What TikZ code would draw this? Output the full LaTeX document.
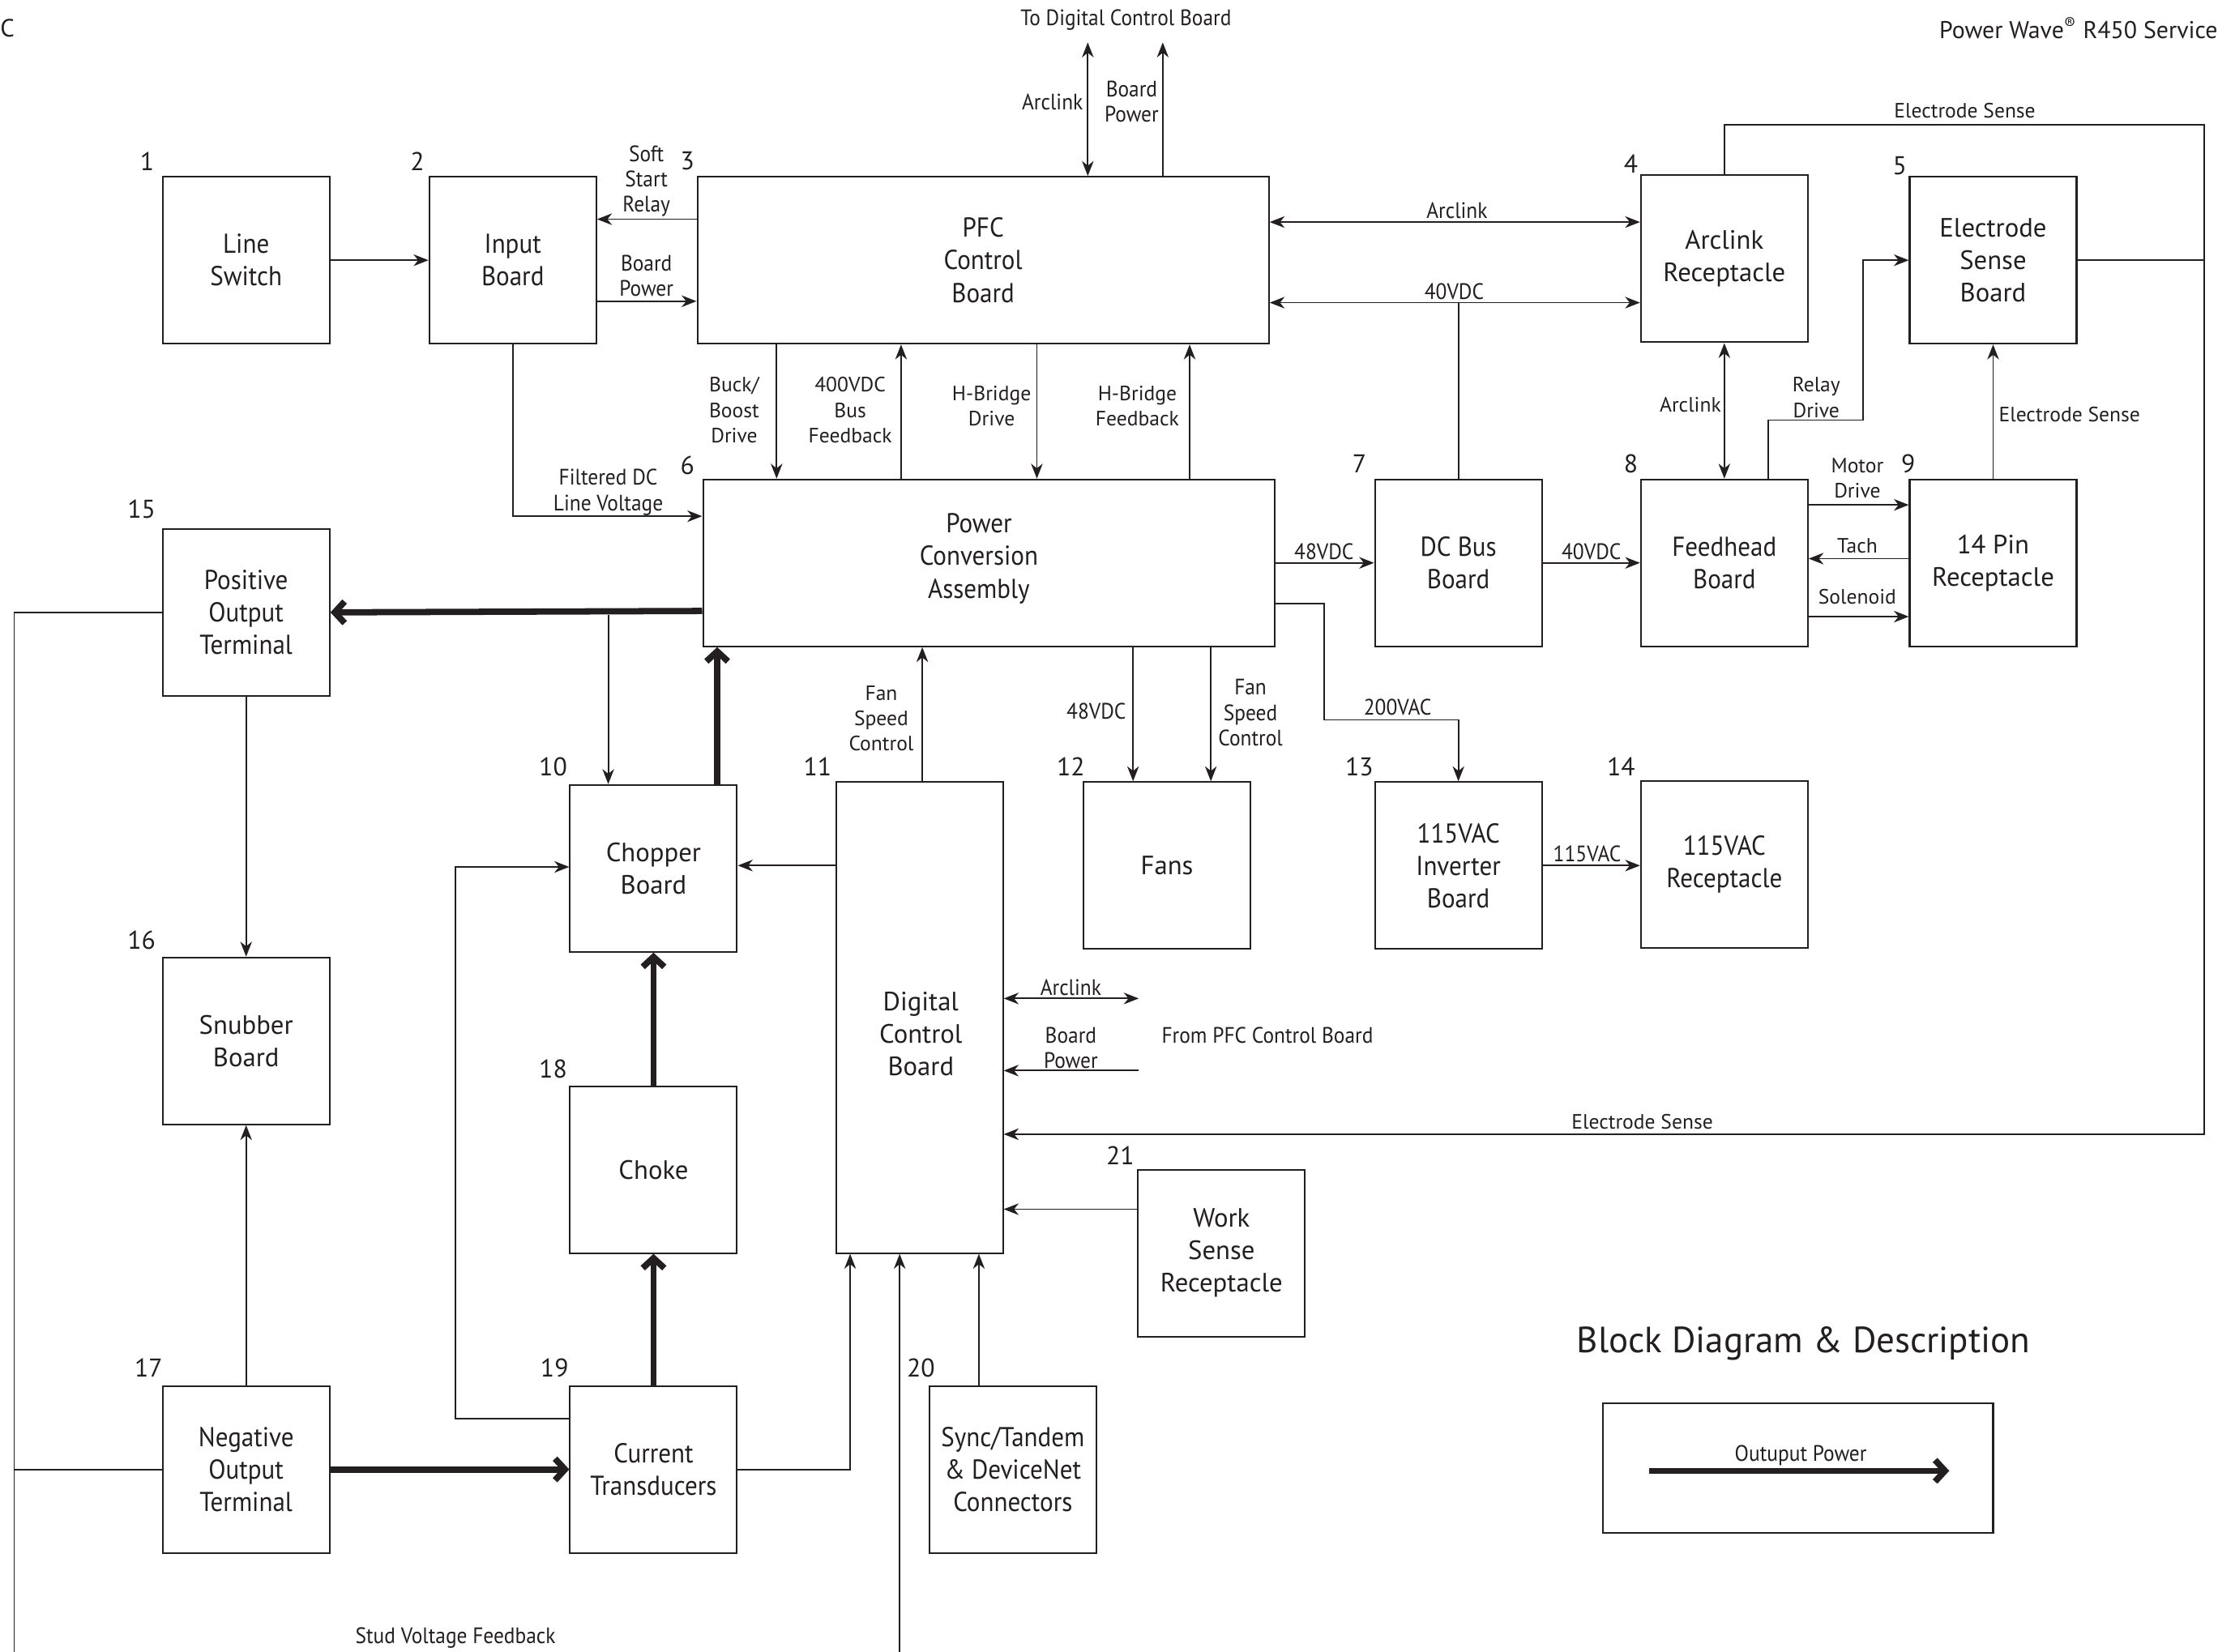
\documentclass[tikz,border=0pt]{standalone}
\usepackage{fontspec}
\setmainfont{PT Sans}
\newfontfamily\condf{PT Sans}[FakeStretch=0.92]
\usepackage{xcolor}
\usetikzlibrary{arrows.meta}
\definecolor{ink}{HTML}{231F20}
\tikzset{
  blk/.style={draw=ink,line width=1pt,minimum width=3.54cm,minimum height=3.54cm,align=center,inner sep=2pt,text=ink,font=\fontsize{16}{19.6}\selectfont},
  cblk/.style={blk,font=\condf\fontsize{16.5}{19.6}\selectfont},
  ar/.style={-{Stealth[length=9pt,width=7pt,inset=2.8pt]},line width=0.9pt,ink},
  dar/.style={{Stealth[length=9pt,width=7pt,inset=2.8pt]}-{Stealth[length=9pt,width=7pt,inset=2.8pt]},line width=0.9pt,ink},
  pw/.style={-{Straight Barb[length=6pt,width=13pt]},line width=3.8pt,ink},
  ln/.style={line width=0.9pt,ink},
  lbl/.style={font=\condf\fontsize{13.5}{15.3}\selectfont,align=center,inner sep=0pt,text=ink},
  lbn/.style={font=\fontsize{12.5}{15.3}\selectfont,align=center,inner sep=0pt,text=ink},
  num/.style={font=\fontsize{15.5}{18}\selectfont,inner sep=0pt,text=ink}
}

\begin{document}
\begin{tikzpicture}[x=0.03cm,y=-0.03cm]
\useasboundingbox (0,0) rectangle (1568,1168);

% header
\node[lbn,anchor=west,font=\fontsize{15}{18}\selectfont] (hdl) at (0,20) {C};
\node[lbn,anchor=east,font=\fontsize{14.6}{18}\selectfont] (hdr) at (1568,20) {Power Wave\textsuperscript{®} R450 Service};

% blocks
\node[cblk] (ls) at (174,184) {Line\\Switch};
\node[cblk] (inb) at (362.5,184) {Input\\Board};
\node[cblk,minimum width=12.12cm] (pfc) at (695,184) {PFC\\Control\\Board};
\node[blk] (arc) at (1219,183) {Arclink\\Receptacle};
\node[blk] (esb) at (1409,184) {Electrode\\Sense\\Board};
\node[cblk,minimum width=12.12cm] (pca) at (699,398) {};
\node[cblk,draw=none] (pcat) at (692,395) {Power\\Conversion\\Assembly};
\node[cblk] (dcbus) at (1031,398) {DC Bus\\Board};
\node[cblk] (fhb) at (1219,398) {Feedhead\\Board};
\node[blk] (pin) at (1409,398) {14 Pin\\Receptacle};
\node[cblk] (pos) at (174,433) {Positive\\Output\\Terminal};
\node[blk] (chop) at (462,614) {Chopper\\Board};
\node[blk,minimum height=9.99cm] (dcb) at (650,719.5) {};
\node[blk,draw=none] (dcbt) at (651,731) {Digital\\Control\\Board};
\node[blk] (fans) at (825,612) {Fans};
\node[cblk] (inv) at (1031,612) {115VAC\\Inverter\\Board};
\node[cblk] (rec) at (1219,611) {115VAC\\Receptacle};
\node[blk] (snub) at (174,736) {Snubber\\Board};
\node[blk] (choke) at (462,827) {Choke};
\node[blk] (work) at (863.5,886) {Work\\Sense\\Receptacle};
\node[cblk] (neg) at (174,1039) {Negative\\Output\\Terminal};
\node[cblk] (ct) at (462,1039) {Current\\Transducers};
\node[cblk] (sync) at (716,1039) {Sync/Tandem\\\& DeviceNet\\Connectors};

% numbers
\node[num] (n1) at (104,114) {1};
\node[num] (n2) at (295,114) {2};
\node[num] (n3) at (486,114) {3};
\node[num] (n4) at (1153,116) {4};
\node[num] (n5) at (1343,117) {5};
\node[num] (n6) at (486,329) {6};
\node[num] (n7) at (961,328) {7};
\node[num] (n8) at (1153,328) {8};
\node[num] (n9) at (1349,328) {9};
\node[num] (n15) at (100,360) {15};
\node[num] (n10) at (391,542) {10};
\node[num] (n11) at (578,542) {11};
\node[num] (n12) at (757,542) {12};
\node[num] (n13) at (961,542) {13};
\node[num] (n14) at (1146,542) {14};
\node[num] (n16) at (100,665) {16};
\node[num] (n18) at (391,756) {18};
\node[num] (n21) at (792,817) {21};
\node[num] (n17) at (105,967) {17};
\node[num] (n19) at (392,967) {19};
\node[num] (n20) at (651,967) {20};

% free ends
\coordinate (up1) at (769,30);
\coordinate (up2) at (822,30);
\coordinate (esr) at (1558,88);
\coordinate (tap) at (430,435);
\coordinate (lft) at (10,1168);
\coordinate (stud) at (636,1168);
\coordinate (fpa) at (805,706);
\coordinate (fpb) at (805,757);

% top row
\draw[ar] (ls.east) -- (inb.west);
\draw[ar] (pfc.west |- 0,155) -- (inb.east |- 0,155);
\draw[ar] (inb.east |- 0,213) -- (pfc.west |- 0,213);
\draw[dar] (pfc.north -| up1) -- (up1);
\draw[ar] (pfc.north -| up2) -- (up2);
\draw[dar] (pfc.east |- 0,157) -- (arc.west |- 0,157);
\draw[dar] (pfc.east |- 0,214) -- (arc.west |- 0,214);
\draw[ln] (dcbus.north) -- (dcbus.north |- 0,214);
\draw[ar] (arc.north) -- (arc.north |- esr) -- (esr) -- (esr |- 0,802) -- (dcb.east |- 0,802);
\draw[ln] (esb.east) -- (esb.east -| esr);
\draw[dar] (arc.south) -- (fhb.north);
\draw[ar] (fhb.north -| 1250,0) -- (1250,297) -- (1317,297) -- (1317,184) -- (esb.west);
\draw[ar] (pin.north) -- (esb.south);
\draw[ar] (fhb.east |- 0,357) -- (pin.west |- 0,357);
\draw[ar] (pin.west |- 0,395) -- (fhb.east |- 0,395);
\draw[ar] (fhb.east |- 0,436) -- (pin.west |- 0,436);
\draw[ar] (dcbus.east) -- (fhb.west);
\draw[ar] (pca.east |- 0,398) -- (dcbus.west);
\draw[ar] (pca.east |- 0,427) -- (936,427) -- (936,509) -- (inv.north |- 0,509) -- (inv.north);
\draw[ar] (inv.east) -- (rec.west |- inv.east);

% PFC to power conversion
\draw[ar] (pfc.south -| 549,0) -- (pca.north -| 549,0);
\draw[ar] (pca.north -| 637,0) -- (pfc.south -| 637,0);
\draw[ar] (pfc.south -| 733,0) -- (pca.north -| 733,0);
\draw[ar] (pca.north -| 841,0) -- (pfc.south -| 841,0);
\draw[ar] (inb.south) -- (inb.south |- 0,365) -- (pca.west |- 0,365);

% output power path
\draw[pw] (pca.west |- 0,432) -- (pos.east);
\draw[pw] (neg.east) -- (ct.west);
\draw[pw] (ct.north) -- (choke.south);
\draw[pw] (choke.north) -- (chop.south);
\draw[pw] (chop.north -| 507,0) -- (pca.south -| 507,0);

% feedback and control
\draw[ln] (pos.west) -- (pos.west -| lft) -- (lft);
\draw[ln] (neg.west) -- (neg.west -| lft);
\draw[ar] (pos.south) -- (snub.north);
\draw[ar] (neg.north) -- (snub.south);
\draw[ar] (tap) -- (chop.north -| tap);
\draw[ar] (ct.west |- 0,1003) -- (322,1003) -- (322,613) -- (chop.west |- 0,613);
\draw[ar] (dcb.west |- 0,612) -- (chop.east |- 0,612);
\draw[ar] (ct.east) -- (601,1039) -- (dcb.south -| 601,0);
\draw[ar] (sync.north -| 692,0) -- (dcb.south -| 692,0);
\draw[ar] (stud) -- (dcb.south -| stud);
\draw[ar] (dcb.north -| 652,0) -- (pca.south -| 652,0);
\draw[ar] (pca.south -| 801,0) -- (fans.north -| 801,0);
\draw[ar] (pca.south -| 856,0) -- (fans.north -| 856,0);
\draw[dar] (dcb.east |- fpa) -- (fpa);
\draw[ar] (fpb) -- (dcb.east |- fpb);
\draw[ar] (work.west |- 0,855) -- (dcb.east |- 0,855);

% labels
\node[lbl] (t1) at (457,128) {Soft\\Start\\Relay};
\node[lbl] (t2) at (457,195) {Board\\Power};
\node[lbl] (t3) at (796,14) {To Digital Control Board};
\node[lbl] (t4) at (744,72) {Arclink};
\node[lbl] (t5) at (800,72) {Board\\Power};
\node[lbl] (t6) at (1030,149) {Arclink};
\node[lbl] (t7) at (1028,206) {40VDC};
\node[lbn] (t8) at (1389,78) {Electrode Sense};
\node[lbn] (t9) at (1195,286) {Arclink};
\node[lbn] (t10) at (1284,281) {Relay\\Drive};
\node[lbn] (t11) at (1463,293) {Electrode Sense};
\node[lbn] (t12) at (1313,338) {Motor\\Drive};
\node[lbn] (t13) at (1313,386) {Tach};
\node[lbn] (t14) at (1313,422) {Solenoid};
\node[lbl] (t15) at (1125,390) {40VDC};
\node[lbl] (t16) at (936,390) {48VDC};
\node[lbl] (t17) at (988,500) {200VAC};
\node[lbl] (t18) at (1122,604) {115VAC};
\node[lbn] (t19) at (519,290) {Buck/\\Boost\\Drive};
\node[lbn] (t20) at (601,290) {400VDC\\Bus\\Feedback};
\node[lbn] (t21) at (701,287) {H-Bridge\\Drive};
\node[lbn] (t22) at (804,287) {H-Bridge\\Feedback};
\node[lbl] (t23) at (430,348) {Filtered DC\\Line Voltage};
\node[lbn] (t24) at (623,508) {Fan\\Speed\\Control};
\node[lbl] (t25) at (775,503) {48VDC};
\node[lbl] (t26) at (884,504) {Fan\\Speed\\Control};
\node[lbl] (t27) at (757,698) {Arclink};
\node[lbl] (t28) at (757,741) {Board\\Power};
\node[lbl] (t29) at (896,732) {From PFC Control Board};
\node[lbn] (t30) at (1161,793) {Electrode Sense};
\node[lbl] (t31) at (322,1158) {Stud Voltage Feedback};

% legend
\node[lbn,font=\fontsize{22}{26}\selectfont] (title) at (1275,950) {Block Diagram \& Description};
\node[draw=ink,line width=1pt,minimum width=8.28cm,minimum height=2.76cm] (leg) at (1271,1038) {};
\coordinate (lga) at (1166,1040);
\coordinate (lgb) at (1378,1040);
\draw[pw] (lga) -- (lgb);
\node[lbl] (t32) at (1273,1029) {Outuput Power};
\end{tikzpicture}
\end{document}
